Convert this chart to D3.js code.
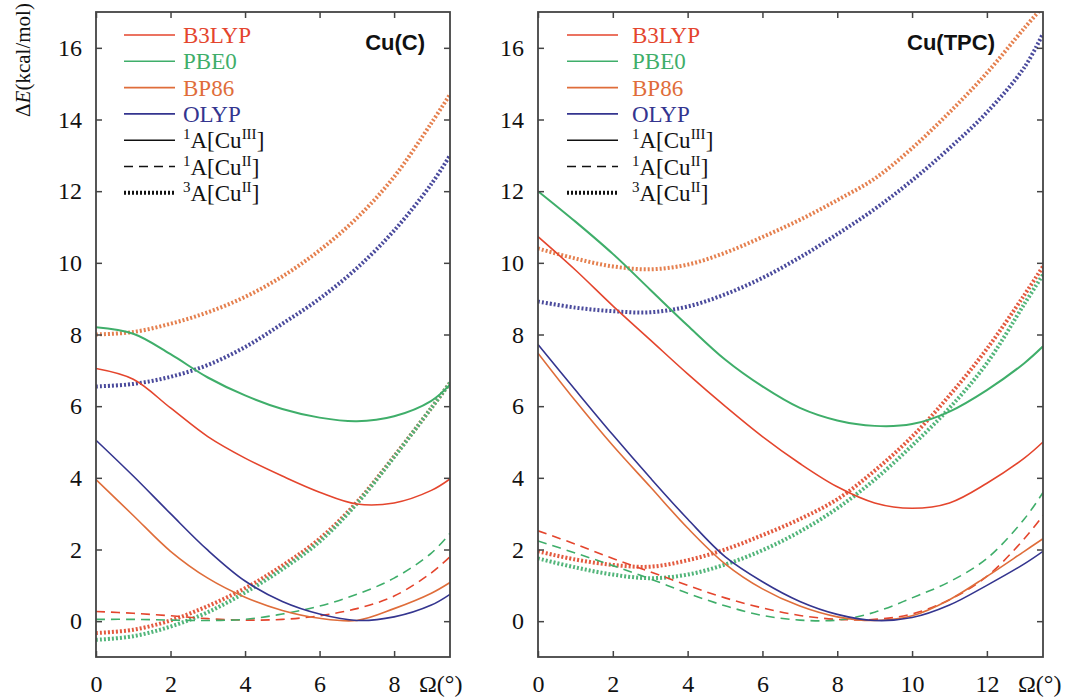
<!DOCTYPE html>
<html>
<head>
<meta charset="utf-8">
<script src="https://cdn.jsdelivr.net/npm/d3@7"></script>
<style>
body{margin:0;background:#fff;}
text{font-family:"Liberation Serif","Times New Roman",serif;}
</style>
</head>
<body>
<script>
// angles (deg) sampled for each panel
var uCuC   = [0,1,2,3,4,5,6,7,8,9,9.5];
var uCuTPC = [0,1,2,3,4,5,6,7,8,9,10,11,12,13,13.5];

var yTicks = [0,2,4,6,8,10,12,14,16];
var xTicksC = [0,2,4,6,8];
var xTicksTPC = [0,2,4,6,8,10,12];

var functionals = ['B3LYP','PBE0','BP86','OLYP'];
var states = ['1A[CuIII]','1A[CuII]','3A[CuII]'];

// Cu(C) values, kcal/mol
var cuC_B3LYP_1CuIII = [7.05,6.75,5.95,5.15,4.55,4.05,3.6,3.27,3.3,3.65,3.97];
var cuC_PBE0_1CuIII  = [8.2,8.02,7.45,6.8,6.3,5.92,5.68,5.58,5.72,6.15,6.6];
var cuC_BP86_1CuIII  = [3.95,2.95,1.95,1.2,0.67,0.3,0.08,0.02,0.35,0.78,1.08];
var cuC_OLYP_1CuIII  = [5.05,4.05,3.0,1.98,1.12,0.55,0.2,0.02,0.12,0.45,0.75];
var cuC_B3LYP_1CuII  = [0.27,0.22,0.15,0.07,0.03,0.05,0.15,0.35,0.7,1.35,1.8];
var cuC_PBE0_1CuII   = [0.05,0.05,0.03,0.02,0.05,0.2,0.42,0.75,1.2,1.9,2.45];
var cuC_B3LYP_3CuII  = [-0.33,-0.24,0.02,0.42,0.92,1.55,2.3,3.32,4.6,5.95,6.65];
var cuC_PBE0_3CuII   = [-0.52,-0.42,-0.15,0.25,0.8,1.45,2.22,3.28,4.58,5.95,6.65];
var cuC_BP86_3CuII   = [8.0,8.07,8.3,8.62,9.05,9.62,10.35,11.25,12.4,13.9,14.7];
var cuC_OLYP_3CuII   = [6.55,6.62,6.82,7.15,7.65,8.3,9.0,9.85,10.9,12.2,13.0];

// Cu(TPC) values, kcal/mol
var cuTPC_B3LYP_1CuIII = [10.73,9.8,8.8,7.85,6.9,6.0,5.15,4.4,3.75,3.3,3.15,3.3,3.85,4.55,5.0];
var cuTPC_PBE0_1CuIII  = [12.0,11.15,10.25,9.25,8.25,7.3,6.55,5.95,5.6,5.45,5.5,5.85,6.45,7.2,7.67];
var cuTPC_BP86_1CuIII  = [7.48,6.15,4.9,3.75,2.6,1.6,0.9,0.42,0.12,0.02,0.15,0.6,1.25,1.95,2.3];
var cuTPC_OLYP_1CuIII  = [7.72,6.45,5.2,4.0,2.85,1.8,1.1,0.55,0.19,0.02,0.1,0.45,1.0,1.6,1.95];
var cuTPC_B3LYP_1CuII  = [2.52,2.15,1.75,1.38,1.0,0.65,0.37,0.16,0.05,0.05,0.2,0.6,1.25,2.3,2.95];
var cuTPC_PBE0_1CuII   = [2.24,1.9,1.55,1.18,0.78,0.43,0.16,0.03,0.03,0.25,0.65,1.1,1.75,2.85,3.59];
var cuTPC_B3LYP_3CuII  = [1.95,1.72,1.57,1.52,1.7,2.0,2.4,2.85,3.4,4.2,5.15,6.3,7.6,9.1,9.9];
var cuTPC_PBE0_3CuII   = [1.75,1.5,1.3,1.2,1.3,1.58,1.98,2.5,3.15,3.95,4.9,5.95,7.2,8.85,9.67];
var cuTPC_BP86_3CuII   = [10.4,10.12,9.9,9.82,9.95,10.28,10.72,11.2,11.75,12.35,13.2,14.2,15.3,16.55,17.15];
var cuTPC_OLYP_3CuII   = [8.92,8.75,8.65,8.62,8.78,9.12,9.58,10.15,10.8,11.5,12.3,13.2,14.2,15.45,16.4];

var colors = {B3LYP:'#e4452d', PBE0:'#3fae6a', BP86:'#df6d3a', OLYP:'#34358f'};
var dotColors = {B3LYP:'#e35a3f', PBE0:'#52b57a', BP86:'#e5804f', OLYP:'#4a4a9c'};

var panels = [
  {title:'Cu(C)', x0:96, x1:450, xmax:9.5, ticks:xTicksC, u:uCuC, titleX:425, omegaX:419, legX:124, legText:183,
   series:[
     {f:'B3LYP', s:2, v:cuC_B3LYP_3CuII}, {f:'PBE0', s:2, v:cuC_PBE0_3CuII},
     {f:'BP86', s:2, v:cuC_BP86_3CuII}, {f:'OLYP', s:2, v:cuC_OLYP_3CuII},
     {f:'B3LYP', s:1, v:cuC_B3LYP_1CuII}, {f:'PBE0', s:1, v:cuC_PBE0_1CuII},
     {f:'B3LYP', s:0, v:cuC_B3LYP_1CuIII}, {f:'PBE0', s:0, v:cuC_PBE0_1CuIII},
     {f:'BP86', s:0, v:cuC_BP86_1CuIII}, {f:'OLYP', s:0, v:cuC_OLYP_1CuIII}
   ]},
  {title:'Cu(TPC)', x0:538, x1:1043, xmax:13.5, ticks:xTicksTPC, u:uCuTPC, titleX:995, omegaX:1018, legX:567, legText:632,
   series:[
     {f:'B3LYP', s:2, v:cuTPC_B3LYP_3CuII}, {f:'PBE0', s:2, v:cuTPC_PBE0_3CuII},
     {f:'BP86', s:2, v:cuTPC_BP86_3CuII}, {f:'OLYP', s:2, v:cuTPC_OLYP_3CuII},
     {f:'B3LYP', s:1, v:cuTPC_B3LYP_1CuII}, {f:'PBE0', s:1, v:cuTPC_PBE0_1CuII},
     {f:'B3LYP', s:0, v:cuTPC_B3LYP_1CuIII}, {f:'PBE0', s:0, v:cuTPC_PBE0_1CuIII},
     {f:'BP86', s:0, v:cuTPC_BP86_1CuIII}, {f:'OLYP', s:0, v:cuTPC_OLYP_1CuIII}
   ]}
];

var plotTop = 12, plotBottom = 657;

var svg = d3.select('body').append('svg')
            .attr('width',1066)
            .attr('height',698);

var y = d3.scaleLinear().domain([-1,17]).range([plotBottom,plotTop]);

function styleLine(sel, f, s){
  if(s==0){ sel.style('stroke',colors[f]).style('stroke-width', f=='PBE0'?2:1.6); }
  else if(s==1){ sel.style('stroke',colors[f]).style('stroke-width',1.6).style('stroke-dasharray','9,6'); }
  else { sel.style('stroke',dotColors[f]).style('stroke-width',4).style('stroke-dasharray','2,2'); }
}

panels.forEach(function(p,pi){
  var x = d3.scaleLinear().domain([0,p.xmax]).range([p.x0,p.x1]);

  svg.append('clipPath').attr('id','clip'+pi)
     .append('rect').attr('x',p.x0).attr('y',plotTop).attr('width',p.x1-p.x0).attr('height',plotBottom-plotTop);

  var line = d3.line()
               .x(function(d,i){return x(p.u[i]);})
               .y(function(d){return y(d);})
               .curve(d3.curveCatmullRom.alpha(0.5));

  var g = svg.append('g').attr('clip-path','url(#clip'+pi+')');
  p.series.forEach(function(sr){
    var path = g.append('path').attr('fill','none').attr('d',line(sr.v));
    styleLine(path, sr.f, sr.s);
  });

  // axes, ticks pointing inward
  var xb = svg.append('g').attr('transform','translate(0,'+plotBottom+')')
              .call(d3.axisBottom(x).tickValues(p.ticks).tickSizeInner(-6).tickSizeOuter(0).tickPadding(18));
  var xt = svg.append('g').attr('transform','translate(0,'+plotTop+')')
              .call(d3.axisTop(x).tickValues(p.ticks).tickSizeInner(-6).tickSizeOuter(0).tickFormat(''));
  var yl = svg.append('g').attr('transform','translate('+p.x0+',0)')
              .call(d3.axisLeft(y).tickValues(yTicks).tickSizeInner(-6).tickSizeOuter(0).tickPadding(14));
  var yr = svg.append('g').attr('transform','translate('+p.x1+',0)')
              .call(d3.axisRight(y).tickValues(yTicks).tickSizeInner(-6).tickSizeOuter(0).tickFormat(''));
  [xb,xt,yl,yr].forEach(function(a){
    a.select('.domain').remove();
    a.selectAll('line').style('stroke','#444').style('stroke-width',1.5);
    a.selectAll('text').style('font-family','"Liberation Serif",serif').style('font-size','24px').style('fill','#111');
  });

  svg.append('rect').attr('x',p.x0).attr('y',plotTop).attr('width',p.x1-p.x0).attr('height',plotBottom-plotTop)
     .attr('fill','none').style('stroke','#444').style('stroke-width',1.8);

  svg.append('text').attr('x',p.omegaX).attr('y',692)
     .style('font-size','24px').style('fill','#111').text('\u03a9(\u00b0)');

  svg.append('text').attr('x',p.titleX).attr('y',50).attr('text-anchor','end')
     .style('font-family','"Liberation Sans",Arial,sans-serif').style('font-weight','bold')
     .style('font-size','22px').style('fill','#111').text(p.title);

  // legend
  var rows = functionals.concat(states);
  rows.forEach(function(r,i){
    var ry = 35 + i*26.3;
    var ln = svg.append('line').attr('x1',p.legX).attr('x2',p.legX+51).attr('y1',ry).attr('y2',ry);
    if(i<4){ ln.style('stroke',colors[r]).style('stroke-width',1.6);
      svg.append('text').attr('x',p.legText).attr('y',ry+8).style('font-size','23px').style('fill',colors[r]).text(r);
    } else {
      var s = i-4;
      styleLine(ln,'x',s);
      ln.style('stroke','#111');
      var t = svg.append('text').attr('x',p.legText).attr('y',ry+8).style('font-size','23px').style('fill','#111');
      var pre = s==2 ? '3' : '1';
      var sup = s==0 ? 'III' : 'II';
      t.append('tspan').attr('dy',-9).style('font-size','15px').text(pre);
      t.append('tspan').attr('dy',9).text('A[Cu');
      t.append('tspan').attr('dy',-9).style('font-size','15px').text(sup);
      t.append('tspan').attr('dy',9).text(']');
    }
  });
});

// y axis title
var yt = svg.append('text').attr('transform','translate(30,60) rotate(-90)')
            .attr('text-anchor','middle').style('font-size','21px').style('fill','#111');
yt.append('tspan').text('\u0394');
yt.append('tspan').style('font-style','italic').text('E');
yt.append('tspan').text('(kcal/mol)');
</script>
</body>
</html>
